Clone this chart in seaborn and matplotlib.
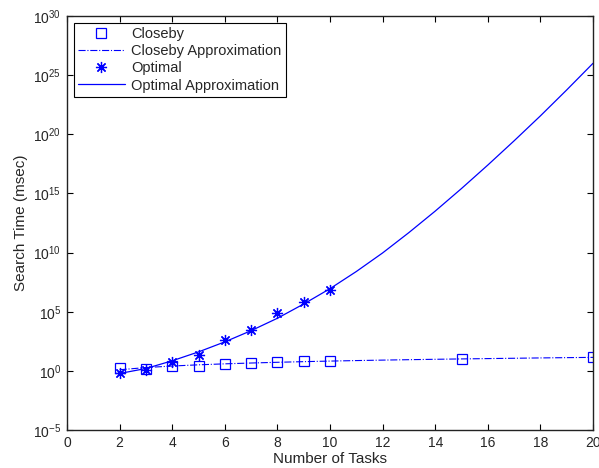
import matplotlib
matplotlib.use("Agg")
import matplotlib.pyplot as plt
import seaborn as sns
import pandas as pd
from matplotlib.ticker import LogFormatterSciNotation, FixedLocator, NullLocator

# ---- data ----
closeby_x = [2, 3, 4, 5, 6, 7, 8, 9, 10, 15, 20]
closeby_y = [1.8, 1.4, 2.6, 2.75, 3.8, 4.4, 5.4, 6.9, 7.2, 10.7, 14.1]

closeby_approx_x = [2, 3, 4, 5, 6, 7, 8, 9, 10, 11, 12, 13, 14, 15, 16, 17, 18, 19, 20]
closeby_approx_y = [1.24, 1.9, 2.56, 3.24, 3.92, 4.6, 5.3, 6.0, 6.7, 7.4, 8.1,
                    8.8, 9.5, 10.2, 10.9, 11.6, 12.4, 13.1, 13.8]

optimal_x = [2, 3, 4, 5, 6, 7, 8, 9, 10]
optimal_y = [0.63, 1.2, 6.0, 22, 400, 2900, 8.3e4, 6.3e5, 6.9e6]

optimal_approx_x = [2, 3, 4, 5, 6, 7, 8, 9, 10, 11, 12, 13, 14, 15, 16, 17, 18, 19, 20]
optimal_approx_y = [0.60, 1.58, 7.1, 40, 2.82e2, 2.5e3, 2.8e4, 4.5e5, 8.9e6, 2.5e8,
                    9.3e9, 4.9e11, 3.2e13, 2.6e15, 2.5e17, 2.8e19, 3.6e21, 5.6e23, 1.0e26]

x_ticks = [0, 2, 4, 6, 8, 10, 12, 14, 16, 18, 20]
y_ticks = [1e-5, 1e0, 1e5, 1e10, 1e15, 1e20, 1e25, 1e30]

sns.set_style("ticks")
plt.rcParams['font.family'] = ['Liberation Sans', 'DejaVu Sans']
plt.rcParams['mathtext.fontset'] = 'custom'
plt.rcParams['mathtext.rm'] = 'Liberation Sans'
plt.rcParams['mathtext.default'] = 'regular'

fig = plt.figure(figsize=(5.99, 4.68), dpi=100)
ax = fig.add_axes([67/599, 1 - 430/468, (593 - 67)/599, (430 - 16)/468])
ax.set_yscale('log')

blue = (0, 0, 1)

df_c = pd.DataFrame({"x": closeby_x, "y": closeby_y})
df_ca = pd.DataFrame({"x": closeby_approx_x, "y": closeby_approx_y})
df_o = pd.DataFrame({"x": optimal_x, "y": optimal_y})
df_oa = pd.DataFrame({"x": optimal_approx_x, "y": optimal_approx_y})

sns.lineplot(data=df_c, x="x", y="y", ax=ax, color=blue, linestyle='none',
             marker='s', markersize=6.5, markerfacecolor='none',
             markeredgecolor=blue, markeredgewidth=0.9, label="Closeby")
sns.lineplot(data=df_ca, x="x", y="y", ax=ax, color=blue, linestyle='-.',
             linewidth=0.8, label="Closeby Approximation")
sns.lineplot(data=df_o, x="x", y="y", ax=ax, color=blue, linestyle='none',
             marker=(8, 2, 0), markersize=8, markeredgecolor=blue,
             markeredgewidth=0.9, label="Optimal")
sns.lineplot(data=df_oa, x="x", y="y", ax=ax, color=blue, linestyle='-',
             linewidth=0.9, label="Optimal Approximation")

ax.set_xlim(0, 20)
ax.set_ylim(1e-5, 1e30)
ax.set_xticks(x_ticks)
ax.set_xticklabels([str(t) for t in x_ticks])
ax.yaxis.set_major_locator(FixedLocator(y_ticks))
ax.yaxis.set_minor_locator(NullLocator())
ax.yaxis.set_major_formatter(LogFormatterSciNotation())

ax.tick_params(axis='both', which='major', direction='in', top=True, right=True,
               length=4, width=0.8, labelsize=10, color='black', pad=4)
for s in ax.spines.values():
    s.set_visible(True)
    s.set_linewidth(1.0)
    s.set_color('#222222')

ax.set_xlabel("Number of Tasks", fontsize=11, labelpad=2)
ax.set_ylabel("Search Time (msec)", fontsize=11, labelpad=4)

leg = ax.legend(loc='upper left', fontsize=10.5, frameon=True, fancybox=False,
                shadow=False, borderaxespad=0.45, handlelength=3.2,
                handletextpad=0.45, labelspacing=0.22, borderpad=0.3)
leg.get_frame().set_edgecolor('black')
leg.get_frame().set_linewidth(0.8)
leg.get_frame().set_alpha(1)

fig.savefig("out.png", dpi=100)
